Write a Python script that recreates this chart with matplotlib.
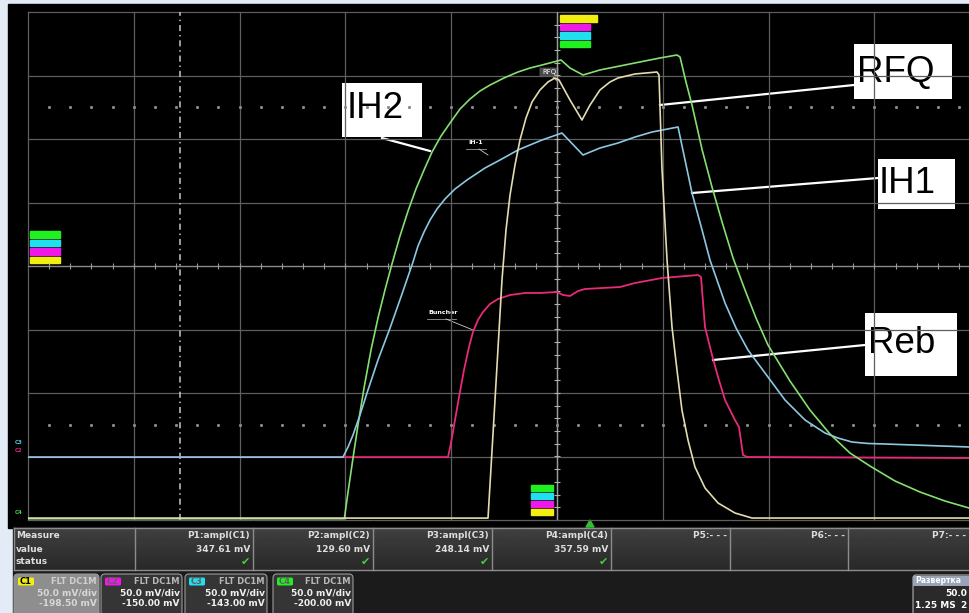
import numpy as np
import matplotlib.pyplot as plt
from matplotlib.patches import Rectangle, FancyBboxPatch, Polygon

# traces, in graticule divisions
# (x: time div from left edge, y: level div from centre line)
ih2_t = [0.0, 2.99, 3.025, 3.072, 3.119, 3.176, 3.242, 3.308, 3.374, 3.440, 3.516, 3.592,
         3.667, 3.743, 3.819, 3.904, 3.989, 4.083, 4.178, 4.272, 4.367, 4.499, 4.631, 4.745,
         4.858, 5.038, 5.123, 5.246, 5.406, 5.595, 5.784, 5.974, 6.134, 6.163, 6.219, 6.276,
         6.371, 6.465, 6.560, 6.664, 6.777, 6.881, 6.994, 7.202, 7.391, 7.580, 7.769, 7.958,
         8.195, 8.431, 8.667, 8.894]
ih2_v = [-3.98, -3.98, -3.559, -3.024, -2.504, -1.921, -1.323, -0.819, -0.378, 0.031, 0.472, 0.866,
         1.213, 1.512, 1.795, 2.047, 2.252, 2.472, 2.630, 2.756, 2.850, 2.961, 3.055, 3.118,
         3.165, 3.244, 3.118, 3.008, 3.087, 3.150, 3.213, 3.276, 3.323, 3.291, 2.898, 2.535,
         1.835, 1.244, 0.693, 0.126, -0.378, -0.819, -1.244, -1.811, -2.268, -2.646, -2.945, -3.150,
         -3.386, -3.559, -3.701, -3.811]

ih1_t = [0.0, 2.977, 3.025, 3.072, 3.138, 3.204, 3.308, 3.422, 3.535, 3.639, 3.686, 3.743,
         3.800, 3.866, 3.941, 4.036, 4.149, 4.319, 4.461, 4.631, 4.858, 5.047, 5.246, 5.406,
         5.577, 5.737, 5.898, 6.144, 6.210, 6.276, 6.371, 6.446, 6.588, 6.692, 6.805, 6.994,
         7.155, 7.344, 7.533, 7.656, 7.788, 7.940, 8.100, 8.894]
ih1_v = [-3.01, -3.01, -2.850, -2.661, -2.346, -2.000, -1.480, -0.976, -0.441, 0.063, 0.315, 0.535,
         0.724, 0.898, 1.055, 1.213, 1.354, 1.543, 1.669, 1.827, 1.984, 2.094, 1.748, 1.858,
         1.937, 2.031, 2.110, 2.189, 1.669, 1.150, 0.567, 0.094, -0.583, -0.976, -1.323, -1.748,
         -2.110, -2.425, -2.630, -2.709, -2.772, -2.795, -2.803, -2.850]

rfq_t = [0.0, 4.348, 4.414, 4.480, 4.518, 4.556, 4.603, 4.650, 4.707, 4.764, 4.839, 4.915,
         4.981, 5.019, 5.123, 5.236, 5.312, 5.406, 5.501, 5.577, 5.737, 5.945, 5.964, 5.992,
         6.040, 6.087, 6.134, 6.181, 6.238, 6.304, 6.399, 6.522, 6.682, 6.843, 8.894]
rfq_v = [-3.97, -3.97, -2.110, -0.220, 0.567, 1.118, 1.591, 1.984, 2.331, 2.583, 2.772, 2.898,
         2.961, 2.929, 2.614, 2.299, 2.535, 2.772, 2.898, 2.961, 3.024, 3.055, 3.008, 1.543,
         0.094, -0.961, -1.638, -2.268, -2.740, -3.165, -3.496, -3.732, -3.890, -3.969, -3.969]

reb_t = [0.0, 3.970, 3.998, 4.036, 4.074, 4.121, 4.168, 4.206, 4.253, 4.301, 4.367, 4.442,
         4.556, 4.698, 4.839, 5.000, 5.057, 5.123, 5.198, 5.265, 5.595, 5.737, 5.992, 6.333,
         6.361, 6.399, 6.465, 6.522, 6.588, 6.682, 6.720, 6.758, 6.796, 8.894]
reb_v = [-3.01, -3.01, -2.787, -2.425, -2.063, -1.638, -1.276, -1.039, -0.850, -0.724, -0.598, -0.520,
         -0.457, -0.425, -0.425, -0.409, -0.457, -0.472, -0.394, -0.362, -0.331, -0.268, -0.189, -0.142,
         -0.173, -0.961, -1.402, -1.748, -2.110, -2.425, -2.535, -2.976, -3.008, -3.024]

cursor_t = 1.44
cursor_v = [2.5, -2.5]

meas_names = ["P1:ampl(C1)", "P2:ampl(C2)", "P3:ampl(C3)", "P4:ampl(C4)", "P5:- - -", "P6:- - -", "P7:- - -"]
meas_values = ["347.61 mV", "129.60 mV", "248.14 mV", "357.59 mV", "", "", ""]
meas_ok = [True, True, True, True, False, False, False]

ch_names = ["C1", "C2", "C3", "C4"]
ch_scale = ["50.0 mV/div", "50.0 mV/div", "50.0 mV/div", "50.0 mV/div"]
ch_offset = ["-198.50 mV", "-150.00 mV", "-143.00 mV", "-200.00 mV"]
ch_colors = ["#f2ee10", "#f018e8", "#20e0f0", "#20f020"]

W, H = 969, 613
fig = plt.figure(figsize=(W / 100, H / 100), dpi=100, facecolor="#e3ecf6")
bg = fig.add_axes([0, 0, 1, 1])
bg.set_xlim(0, W)
bg.set_ylim(H, 0)
bg.axis("off")

# screen and lower panel area
bg.add_patch(Rectangle((8, 4), W - 8, 524, color="black", zorder=0))
bg.add_patch(Rectangle((13, 527), W - 13, H - 527, color="#1b1b1b", zorder=0))

# scope graticule axes
DIV = 105.8
ax = fig.add_axes([28 / W, 1 - 520 / H, 941 / W, 508 / H])
ax.set_xlim(0, 941 / DIV)
ax.set_ylim(-4, 4)
ax.axis("off")

gcol = "#5e5e5e"
for k in range(0, 9):
    ax.axvline(k, color=gcol, lw=0.9, clip_on=False, zorder=1)
for j in range(-4, 5):
    ax.axhline(j, color=gcol, lw=0.9, clip_on=False, zorder=1)

# centre axes with minor ticks
ax.axvline(5, color="#9a9a9a", lw=1.0, zorder=1)
ax.axhline(0, color="#8a8a8a", lw=0.9, zorder=1)
tx = np.arange(0.2, 8.9, 0.2)
ax.plot(tx, np.zeros_like(tx), "|", color="#9a9a9a", ms=4, mew=0.8, zorder=1)
ty = np.arange(-3.8, 4.0, 0.2)
ax.plot(np.full_like(ty, 5.0), ty, "_", color="#b0b0b0", ms=5, mew=0.8, zorder=1)

# cursors
ax.axvline(cursor_t, color="#c8c8c8", lw=1.1, ls=(0, (4, 2.5, 1, 2.5)), zorder=1)
for cv in cursor_v:
    ax.plot(tx, np.full_like(tx, cv), "s", color="#8a8a8a", ms=1.1, zorder=1)

# traces
ax.plot(ih2_t, ih2_v, color="#84e070", lw=1.2, zorder=4)
ax.plot(ih1_t, ih1_v, color="#8cc8e2", lw=1.2, zorder=4)
ax.plot(rfq_t, rfq_v, color="#e2dcae", lw=1.2, zorder=5)
ax.plot(reb_t, reb_v, color="#e82a78", lw=1.3, zorder=3)

# channel level chips on screen
chip_sets = [
    (560, 15, ["#f2ee10", "#f018e8", "#20e0f0", "#20f020"], 30, 6.5, 8.5),
    (30, 231, ["#20f020", "#20e0f0", "#f018e8", "#f2ee10"], 30, 6.5, 8.5),
    (531, 485, ["#20f020", "#20e0f0", "#f018e8", "#f2ee10"], 22, 6.0, 8.0),
]
for x0, y0, cols, w, h, step in chip_sets:
    for i, c in enumerate(cols):
        bg.add_patch(Rectangle((x0, y0 + i * step), w, h, color=c, zorder=6))
bg.add_patch(Rectangle((590, 15), 7, 6.5, color="#f2ee10", zorder=6))

bg.text(15, 443, "C3", color="#40d0e0", fontsize=4, weight="bold", va="center")
bg.text(15, 451, "C2", color="#e02080", fontsize=4, weight="bold", va="center")
bg.text(15, 513, "C4", color="#40d040", fontsize=4, weight="bold", va="center")

# small on-screen tags
bg.text(468, 143, "IH-1", color="white", fontsize=4.5, weight="bold", va="center", zorder=7)
bg.plot([466, 486], [148.5, 148.5], color="#9a9a9a", lw=0.6, zorder=7)
bg.plot([479, 488], [149, 155], color="#cccccc", lw=0.6, zorder=7)
bg.add_patch(FancyBboxPatch((540, 68), 18, 8, boxstyle="round,pad=0.5", fc="#4a4a4a", ec="none", zorder=7))
bg.text(549, 72, "RFQ", color="white", fontsize=5, ha="center", va="center", zorder=8)
bg.plot([553, 557], [77, 81], color="#cccccc", lw=0.6, zorder=7)
bg.text(428, 312.5, "Buncher", color="white", fontsize=4.5, weight="bold", va="center", zorder=7)
bg.plot([427, 456], [318.5, 318.5], color="#9a9a9a", lw=0.6, zorder=7)
bg.plot([446, 473], [319, 330], color="#cccccc", lw=0.6, zorder=7)

# big labels with leader lines
labels = [
    ("IH2", (342, 83, 80, 54), (347, 118), [(382, 138), (430, 151)]),
    ("RFQ", (854, 44, 98, 55), (857, 82), [(854, 85), (660, 105)]),
    ("IH1", (878, 159, 77, 50), (879, 193), [(878, 178), (692, 193)]),
    ("Reb", (865, 313, 92, 63), (868, 353), [(865, 345), (713, 360)]),
]
for txt, (bx, by, bw, bh), (tx0, ty0), leader in labels:
    bg.add_patch(Rectangle((bx, by), bw, bh, fc="white", ec="none", zorder=9))
    bg.text(tx0, ty0, txt, family="Liberation Sans", fontsize=26.5, color="black",
            va="baseline", ha="left", zorder=10)
    (x1, y1), (x2, y2) = leader
    bg.plot([x1, x2], [y1, y2], color="white", lw=1.6, zorder=8)

# trigger marker
bg.add_patch(Polygon([(586, 527), (594, 527), (590, 520)], closed=True, color="#30c030", zorder=6))

# measurement table
grad = np.linspace(0.25, 0.16, 50).reshape(-1, 1)
bg.imshow(grad, extent=(14, W, 570, 528), cmap="gray", vmin=0, vmax=1, aspect="auto", zorder=1)
bg.plot([14, W], [528, 528], color="#8c8c8c", lw=1.0, zorder=2)
bg.plot([14, W], [570, 570], color="#8c8c8c", lw=1.0, zorder=2)
bg.plot([14, 14], [528, 570], color="#8c8c8c", lw=1.0, zorder=2)
col_edges = [135, 253, 373, 492, 611, 730, 848, W]
for xe in col_edges[:-1]:
    bg.plot([xe, xe], [528, 570], color="#8c8c8c", lw=1.0, zorder=2)

tkw = dict(fontsize=6.5, weight="bold", color="#dedede", va="center", zorder=3)
bg.text(16, 535, "Measure", **tkw)
bg.text(16, 549, "value", **tkw)
bg.text(16, 562, "status", **tkw)
for i, name in enumerate(meas_names):
    xr = col_edges[i + 1] - 3
    bg.text(xr, 535, name, ha="right", **tkw)
    if meas_values[i]:
        bg.text(xr, 549, meas_values[i], ha="right", **tkw)
    if meas_ok[i]:
        bg.text(xr, 562, "\u2714", ha="right", va="center", fontsize=8, color="#46d03a", zorder=3)

# channel descriptor boxes
boxes = [(14, 99), (101, 182), (185, 267), (273, 353)]
for i, (x0, x1) in enumerate(boxes):
    fc = "#8e8e8e" if i == 0 else "#353535"
    bg.add_patch(FancyBboxPatch((x0, 574), x1 - x0, 45, boxstyle="round,pad=0,rounding_size=4",
                                fc=fc, ec="#9a9a9a", lw=0.8, zorder=2))
    bg.add_patch(FancyBboxPatch((x0 + 4, 577.5), 16, 8, boxstyle="round,pad=0,rounding_size=1.5",
                                fc=ch_colors[i], ec="none", zorder=3))
    bg.text(x0 + 6, 581.5, ch_names[i], fontsize=6, weight="bold", va="center",
            color="black" if i == 0 else "#606060", zorder=4)
    tc = "#d8d8d8" if i == 0 else "#f0f0f0"
    bg.text(x1 - 2, 581.5, "FLT DC1M", ha="right", fontsize=6, weight="bold",
            va="center", color="#b8b8b8" if i else "#d0d0d0", zorder=4)
    bg.text(x1 - 2, 592.5, ch_scale[i], ha="right", fontsize=6.5, weight="bold",
            va="center", color=tc, zorder=4)
    bg.text(x1 - 2, 603.5, ch_offset[i], ha="right", fontsize=6.5, weight="bold",
            va="center", color=tc, zorder=4)

# timebase box
bg.add_patch(FancyBboxPatch((913, 575), 60, 45, boxstyle="round,pad=0,rounding_size=3",
                            fc="#2a2a2a", ec="#b0b0b0", lw=0.8, zorder=2))
bg.add_patch(Rectangle((913.5, 575.5), 56, 10, fc="#9aa4b8", ec="none", zorder=3))
bg.text(915, 580.5, "Развертка", fontsize=5.5, weight="bold", color="white", va="center", zorder=4)
bg.text(967, 593.5, "50.0", fontsize=6.5, weight="bold", color="white", ha="right", va="center", zorder=4)
bg.text(915, 606, "1.25 MS", fontsize=6.5, weight="bold", color="white", va="center", zorder=4)
bg.text(960, 606, "2", fontsize=6.5, weight="bold", color="white", va="center", zorder=4)

fig.savefig("out.png", dpi=100, facecolor=fig.get_facecolor())
